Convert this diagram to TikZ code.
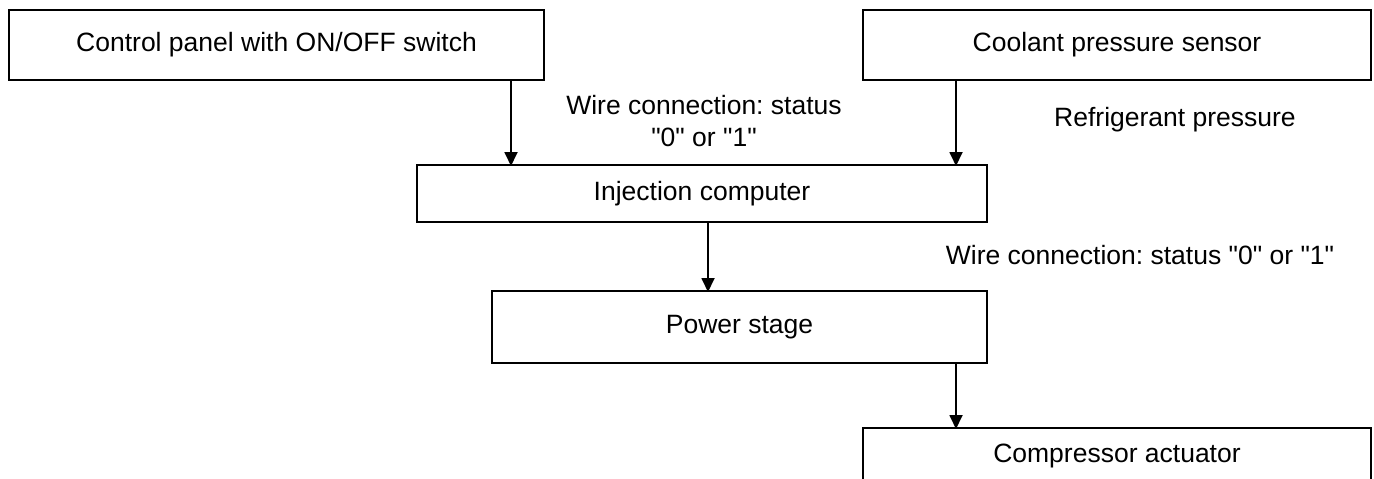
\documentclass[tikz,border=0pt]{standalone}
\usepackage{fontspec}
\setmainfont{Liberation Sans}[Ligatures=TeXOff]
\usetikzlibrary{arrows.meta}
\frenchspacing
\begin{document}
\begin{tikzpicture}[x=1pt,y=-1pt,
  box/.style={draw, line width=2.4pt, inner sep=0pt, outer sep=0pt, font=\fontsize{26.5}{32}\selectfont},
  lbl/.style={inner sep=0pt, align=center, font=\fontsize{26.5}{32}\selectfont},
  arr/.style={line width=1.8pt, -{Triangle[width=13pt,length=14pt]}, shorten >=-1pt}]
\useasboundingbox (0,0) rectangle (1374,479);
\clip (0,0) rectangle (1374,479);
\node[box, minimum width=535pt, minimum height=70pt] (panel) at (276.5,45) {Control panel with ON/OFF switch};
\node[box, minimum width=508pt, minimum height=70pt] (sensor) at (1117,45) {Coolant pressure sensor};
\node[box, minimum width=570pt, minimum height=57pt] (inj) at (702,193.5) {Injection computer};
\node[box, minimum width=495pt, minimum height=72pt] (power) at (739.5,327) {Power stage};
\node[box, minimum width=508pt, minimum height=56pt] (comp) at (1117,456) {Compressor actuator};
\node[lbl] (w1) at (704,121) {Wire connection: status\\"0" or "1"};
\node[lbl] (refr) at (1175,120) {Refrigerant pressure};
\node[lbl] (w2) at (1140,255) {Wire connection: status "0" or "1"};
\coordinate (xa) at (511,0);
\coordinate (xb) at (956,0);
\coordinate (xc) at (708,0);
\draw[arr] (panel.south -| xa) -- (inj.north -| xa);
\draw[arr] (sensor.south -| xb) -- (inj.north -| xb);
\draw[arr] (inj.south -| xc) -- (power.north -| xc);
\draw[arr] (power.south -| xb) -- (comp.north -| xb);
\end{tikzpicture}
\end{document}
